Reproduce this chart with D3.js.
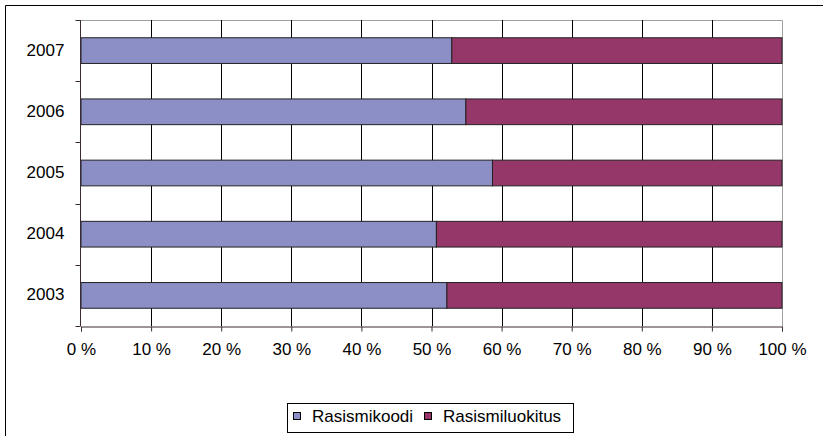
<!DOCTYPE html>
<html><head><meta charset="utf-8">
<script src="https://cdn.jsdelivr.net/npm/d3@7"></script>
<style>body{margin:0;background:#fff}svg text{font-family:"Liberation Sans",Arial,sans-serif;fill:#000}</style>
</head><body>
<svg id="c" width="823" height="436"></svg>
<script>
const years = ["2003","2004","2005","2006","2007"];
const koodi = [52.2, 50.7, 58.7, 54.9, 52.9];
const luokitus = [47.8, 49.3, 41.3, 45.1, 47.1];
const seriesNames = ["Rasismikoodi","Rasismiluokitus"];
const colors = ["#8b8fc6","#96376a"];
const xTicks = [0,10,20,30,40,50,60,70,80,90,100];

const svg = d3.select("#c");
// outer frame
svg.append("path").attr("d","M5.5,440 V5.5 H830").attr("fill","none").attr("stroke","#000").attr("stroke-width",1);

const L=81, R=782, T=20, B=326;
const x = d3.scaleLinear().domain([0,100]).range([L,R]);
const y = d3.scaleBand().domain(years.slice().reverse()).range([T,B]).paddingInner(0.58).paddingOuter(0.29);
const band = d3.scaleBand().domain(years.slice().reverse()).range([T,B]);

// plot border (gray top/right)
svg.append("path").attr("d",`M${L},${T+0.5} H${R+0.5} V${B}`).attr("fill","none").attr("stroke","#a0a0a0");
// gridlines
svg.append("g").selectAll("line").data(xTicks.slice(1,-1)).join("line")
  .attr("x1",d=>Math.round(x(d))+0.5).attr("x2",d=>Math.round(x(d))+0.5)
  .attr("y1",T).attr("y2",B).attr("stroke","#000");

const data = years.map((yr,i)=>({yr, k:koodi[i], l:luokitus[i]}));
const g = svg.append("g");
data.forEach(d=>{
  g.append("rect").attr("x",x(0)).attr("y",y(d.yr)).attr("width",x(d.k)-x(0)).attr("height",y.bandwidth())
    .attr("fill",colors[0]).attr("stroke","#222").attr("stroke-width",1);
  g.append("rect").attr("x",x(d.k)).attr("y",y(d.yr)).attr("width",x(d.k+d.l)-x(d.k)).attr("height",y.bandwidth())
    .attr("fill",colors[1]).attr("stroke","#222").attr("stroke-width",1);
});

// x axis
const xa = svg.append("g").attr("transform",`translate(0,${B+0.5})`)
  .call(d3.axisBottom(x).tickValues(xTicks).tickFormat(d=>d+" %").tickSize(5).tickPadding(11.5));
xa.select(".domain").attr("stroke","#3a2a33");
xa.selectAll(".tick line").attr("stroke","#3a2a33");
xa.selectAll("text").attr("font-size",17).attr("font-family","Liberation Sans, Arial, sans-serif");

// y axis
const ya = svg.append("g").attr("transform",`translate(${L-0.5},0)`);
ya.append("line").attr("x1",0).attr("x2",0).attr("y1",T).attr("y2",B).attr("stroke","#3a2a33");
const bounds = years.map(yr=>band(yr)).concat([B]);
ya.selectAll("line.t").data(bounds).join("line").attr("class","t")
  .attr("x1",-5).attr("x2",0).attr("y1",d=>Math.round(d)+0.5).attr("y2",d=>Math.round(d)+0.5).attr("stroke","#3a2a33");
ya.selectAll("text").data(years).join("text")
  .attr("x",-35).attr("y",d=>band(d)+band.bandwidth()/2-1).attr("dy","0.35em")
  .attr("text-anchor","middle").attr("font-size",17).text(d=>d);

// legend
const lg = svg.append("g");
lg.append("rect").attr("x",287.5).attr("y",403.5).attr("width",286).attr("height",29).attr("fill","#fff").attr("stroke","#000");
const lx = [293, 424];
seriesNames.forEach((n,i)=>{
  lg.append("rect").attr("x",lx[i]+0.5).attr("y",412.5).attr("width",7).attr("height",7).attr("fill",colors[i]).attr("stroke","#000");
  lg.append("text").attr("x",lx[i]+19).attr("y",422).attr("font-size",17).text(n);
});
</script>
</body></html>
